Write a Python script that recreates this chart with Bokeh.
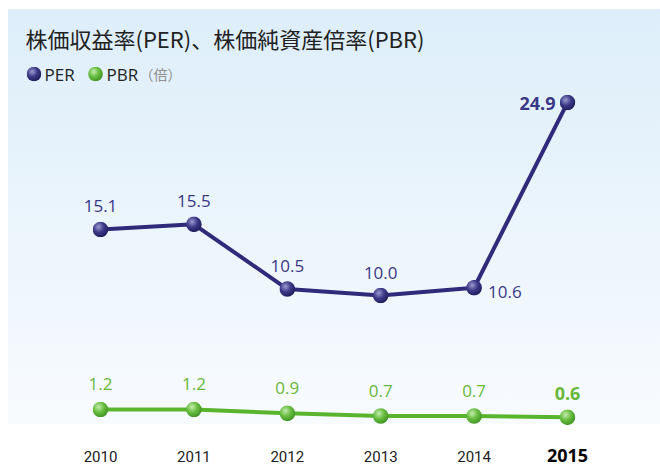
from urllib.parse import quote
from bokeh.plotting import figure
from bokeh.models import Range1d
from bokeh.core.properties import value
from bokeh.embed import file_html
from bokeh.resources import INLINE

# ---------------- data ----------------
YEARS = [2010, 2011, 2012, 2013, 2014, 2015]
YEAR_LABELS = ["2010", "2011", "2012", "2013", "2014", "2015"]
PER = [15.1, 15.5, 10.5, 10.0, 10.6, 24.9]
PBR = [1.2, 1.2, 0.9, 0.7, 0.7, 0.6]
TITLE = "株価収益率(PER)、株価純資産倍率(PBR)"
SERIES_NAMES = ["PER", "PBR"]
UNIT_NOTE = "（倍）"

# ---------------- layout / style ----------------
W, H = 660, 468
PX_PER_YEAR = 93.4
PX_PER_UNIT = 12.95
X_START = YEARS[0] - 100 / PX_PER_YEAR
Y_ZERO_PX = 424.5
Y_END = Y_ZERO_PX / PX_PER_UNIT
Y_START = Y_END - H / PX_PER_UNIT


def fx(px):
    return X_START + px / PX_PER_YEAR


def fy(py):
    return Y_END - py / PX_PER_UNIT


def sphere(light, mid, dark):
    svg = ("<svg xmlns='http://www.w3.org/2000/svg' width='40' height='40'>"
           "<defs><radialGradient id='g' cx='0.38' cy='0.34' r='0.7'>"
           f"<stop offset='0' stop-color='{light}'/>"
           f"<stop offset='0.5' stop-color='{mid}'/>"
           f"<stop offset='1' stop-color='{dark}'/>"
           "</radialGradient></defs>"
           "<circle cx='20' cy='20' r='19.5' fill='url(#g)'/></svg>")
    return "data:image/svg+xml;charset=utf-8," + quote(svg)


PER_COLOR = "#2f2b7a"
PER_TEXT = "#3a3886"
PBR_COLOR = "#5ab52e"
PBR_TEXT = "#68b83a"
PER_BALL = sphere("#9c9ad0", "#3d3a88", "#1d1a58")
PBR_BALL = sphere("#c4ecae", "#68bd40", "#3f9222")
NUM_FONT = value("Open Sans")
JP_FONT = value("Noto Sans CJK JP")

p = figure(width=W, height=H, output_backend="svg", toolbar_location=None,
           x_axis_type=None, y_axis_type=None,
           x_range=Range1d(X_START, X_START + W / PX_PER_YEAR),
           y_range=Range1d(Y_START, Y_END),
           min_border_left=0, min_border_right=0, min_border_top=0, min_border_bottom=0)
p.grid.visible = False
p.outline_line_color = None
p.background_fill_alpha = 0
p.border_fill_alpha = 0
p.styles = {"background": "linear-gradient(to bottom, #ddeefa, #f8fbfe) 8px 9px / 652px 415px no-repeat, #ffffff"}

# title
p.text(x=[fx(25)], y=[fy(37)], text=[TITLE], text_font=JP_FONT, text_font_size="22px",
       text_color="#222222", text_baseline="middle", text_align="left")

# legend
LEG_Y = fy(73.5)
for i, (name, ball) in enumerate([(SERIES_NAMES[0], PER_BALL), (SERIES_NAMES[1], PBR_BALL)]):
    p.image_url(url=[ball], x=[fx(33.5 + 61.5 * i)], y=[LEG_Y], w=15, h=15,
                w_units="screen", h_units="screen", anchor="center")
    p.text(x=[fx(44 + 62 * i)], y=[LEG_Y], text=[name], text_font=NUM_FONT, text_font_size="17px",
           text_color="#222222", text_baseline="middle", text_align="left")
p.text(x=[fx(139)], y=[LEG_Y], text=[UNIT_NOTE], text_font=JP_FONT, text_font_size="14px",
       text_color="#8f8f8f", text_baseline="middle", text_align="left")

# lines
p.line(YEARS, PER, line_width=4, line_color=PER_COLOR)
p.line(YEARS, PBR, line_width=4, line_color=PBR_COLOR)

# markers (spheres)
p.image_url(url=[PER_BALL] * len(YEARS), x=YEARS, y=PER, w=16, h=16,
            w_units="screen", h_units="screen", anchor="center")
p.image_url(url=[PBR_BALL] * len(YEARS), x=YEARS, y=PBR, w=16, h=16,
            w_units="screen", h_units="screen", anchor="center")

# value labels
per_txt = [f"{v:.1f}" for v in PER]
pbr_txt = [f"{v:.1f}" for v in PBR]
p.text(x=YEARS[:4], y=PER[:4], text=per_txt[:4], text_font=NUM_FONT, text_font_size="17px",
       text_color=PER_TEXT, text_align="center", text_baseline="middle", y_offset=-23)
p.text(x=YEARS[4:5], y=PER[4:5], text=per_txt[4:5], text_font=NUM_FONT, text_font_size="17px",
       text_color=PER_TEXT, text_align="left", text_baseline="middle", x_offset=14, y_offset=4)
p.text(x=YEARS[5:], y=PER[5:], text=per_txt[5:], text_font=NUM_FONT, text_font_size="18px",
       text_font_style="bold", text_color=PER_TEXT, text_align="right", text_baseline="middle",
       x_offset=-12, y_offset=1)
p.text(x=YEARS[:5], y=PBR[:5], text=pbr_txt[:5], text_font=NUM_FONT, text_font_size="17px",
       text_color=PBR_TEXT, text_align="center", text_baseline="middle", y_offset=-25)
p.text(x=YEARS[5:], y=PBR[5:], text=pbr_txt[5:], text_font=NUM_FONT, text_font_size="18px",
       text_font_style="bold", text_color=PBR_TEXT, text_align="center", text_baseline="middle",
       y_offset=-24)

# year labels
base = [0] * len(YEARS)
p.text(x=YEARS[:5], y=base[:5], text=YEAR_LABELS[:5], text_font=value("Roboto"), text_font_size="15px",
       text_color="#222222", text_align="center", text_baseline="middle", y_offset=31)
p.text(x=YEARS[5:], y=base[5:], text=YEAR_LABELS[5:], text_font=NUM_FONT, text_font_size="18px",
       text_font_style="bold", text_color="#000000", text_align="center", text_baseline="middle",
       y_offset=30)

open("out.html", "w").write(file_html(p, INLINE))
